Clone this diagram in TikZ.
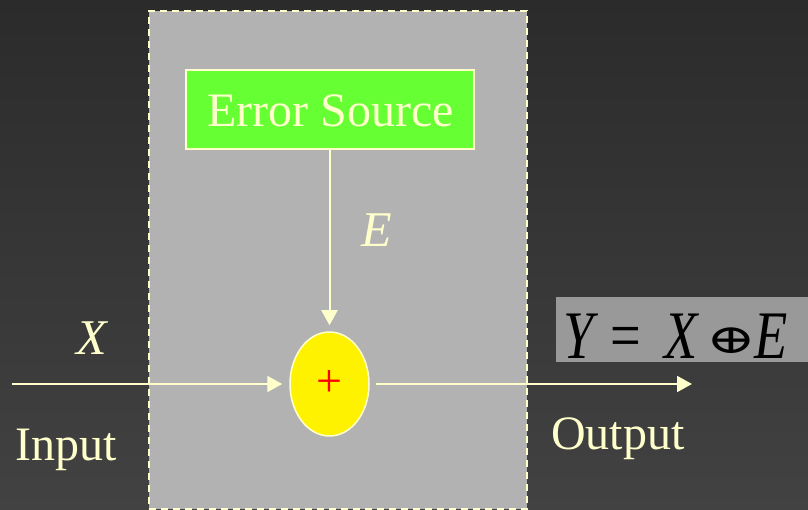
\documentclass[tikz,border=0pt]{standalone}
\usepackage{fontspec}
\setmainfont{Liberation Serif}
\newfontfamily\opfont{DejaVu Serif}
\usetikzlibrary{shapes.geometric,arrows.meta}
\definecolor{cream}{HTML}{FFFFCC}
\definecolor{boxgray}{HTML}{B2B2B2}
\definecolor{srcgreen}{HTML}{66FF33}
\definecolor{eqgray}{HTML}{999999}
\definecolor{bgtop}{HTML}{2B2B2B}
\definecolor{bgbot}{HTML}{424242}
\tikzset{
  wire/.style={draw=cream, line width=2pt, -{Triangle[length=15pt,width=16pt]}},
  lbl/.style={text=cream, inner sep=0pt, font=\fontsize{48}{48}\selectfont},
  ilbl/.style={text=cream, inner sep=0pt, font=\fontsize{50}{50}\selectfont\itshape},
}
\newcommand{\sqz}[1]{\scalebox{0.8}[1]{#1}}
\begin{document}
\begin{tikzpicture}[x=1pt,y=-1pt]
\useasboundingbox (0,0) rectangle (808,510);
\shade[top color=bgtop, bottom color=bgbot] (0,0) rectangle (808,510);
% processing region
\node[draw=cream, fill=boxgray, line width=2pt, dash pattern=on 7pt off 5pt,
      minimum width=378pt, minimum height=498pt, inner sep=0pt, anchor=north west] (proc) at (148,10) {};
% error source
\node[draw=cream, fill=srcgreen, line width=2pt, minimum width=288pt, minimum height=79pt,
      inner sep=0pt, anchor=north west] (src) at (185,69) {};
\node[lbl, anchor=base west] (srctxt) at (207,127) {Error Source};
% summing junction
\node[ellipse, draw=cream, fill=yellow, line width=1.5pt, minimum width=79pt, minimum height=104pt,
      inner sep=0pt, text=red, font=\fontsize{46}{46}\selectfont] (sum) at (329.5,384) {\raisebox{-6pt}{+}};
% connectors
\coordinate (in) at (12,384);
\coordinate (out) at (692,384);
\draw[wire, shorten >=6pt] (src.south -| sum.north) -- (sum.north);
\draw[wire, shorten >=7pt] (in) -- (sum.west);
\draw[wire, shorten <=6pt] (sum.east) -- (out);
% labels
\node[ilbl, anchor=base] (elbl) at (377,247) {E};
\node[ilbl, anchor=base] (xlbl) at (92,354) {X};
\node[lbl, anchor=base west] (inlbl) at (15,460) {Input};
\node[lbl, anchor=base west] (outlbl) at (551,449) {Output};
% equation
\node[fill=eqgray, minimum width=252pt, minimum height=65pt, inner sep=0pt, anchor=north west] (eqbox) at (556,297) {};
\node[inner sep=0pt, anchor=base west, font=\fontsize{68}{68}\selectfont] (eq) at (563,358)
  {\rlap{\sqz{\itshape Y}}\hspace{47pt}%
   \rlap{\sqz{=}}\hspace{54pt}%
   \rlap{\sqz{\itshape X}}\hspace{42pt}%
   \rlap{\raisebox{5pt}{\scalebox{1.45}[1]{\opfont\fontsize{41}{41}\selectfont ⊕}}}\hspace{48pt}%
   \sqz{\itshape E}};
\end{tikzpicture}
\end{document}
